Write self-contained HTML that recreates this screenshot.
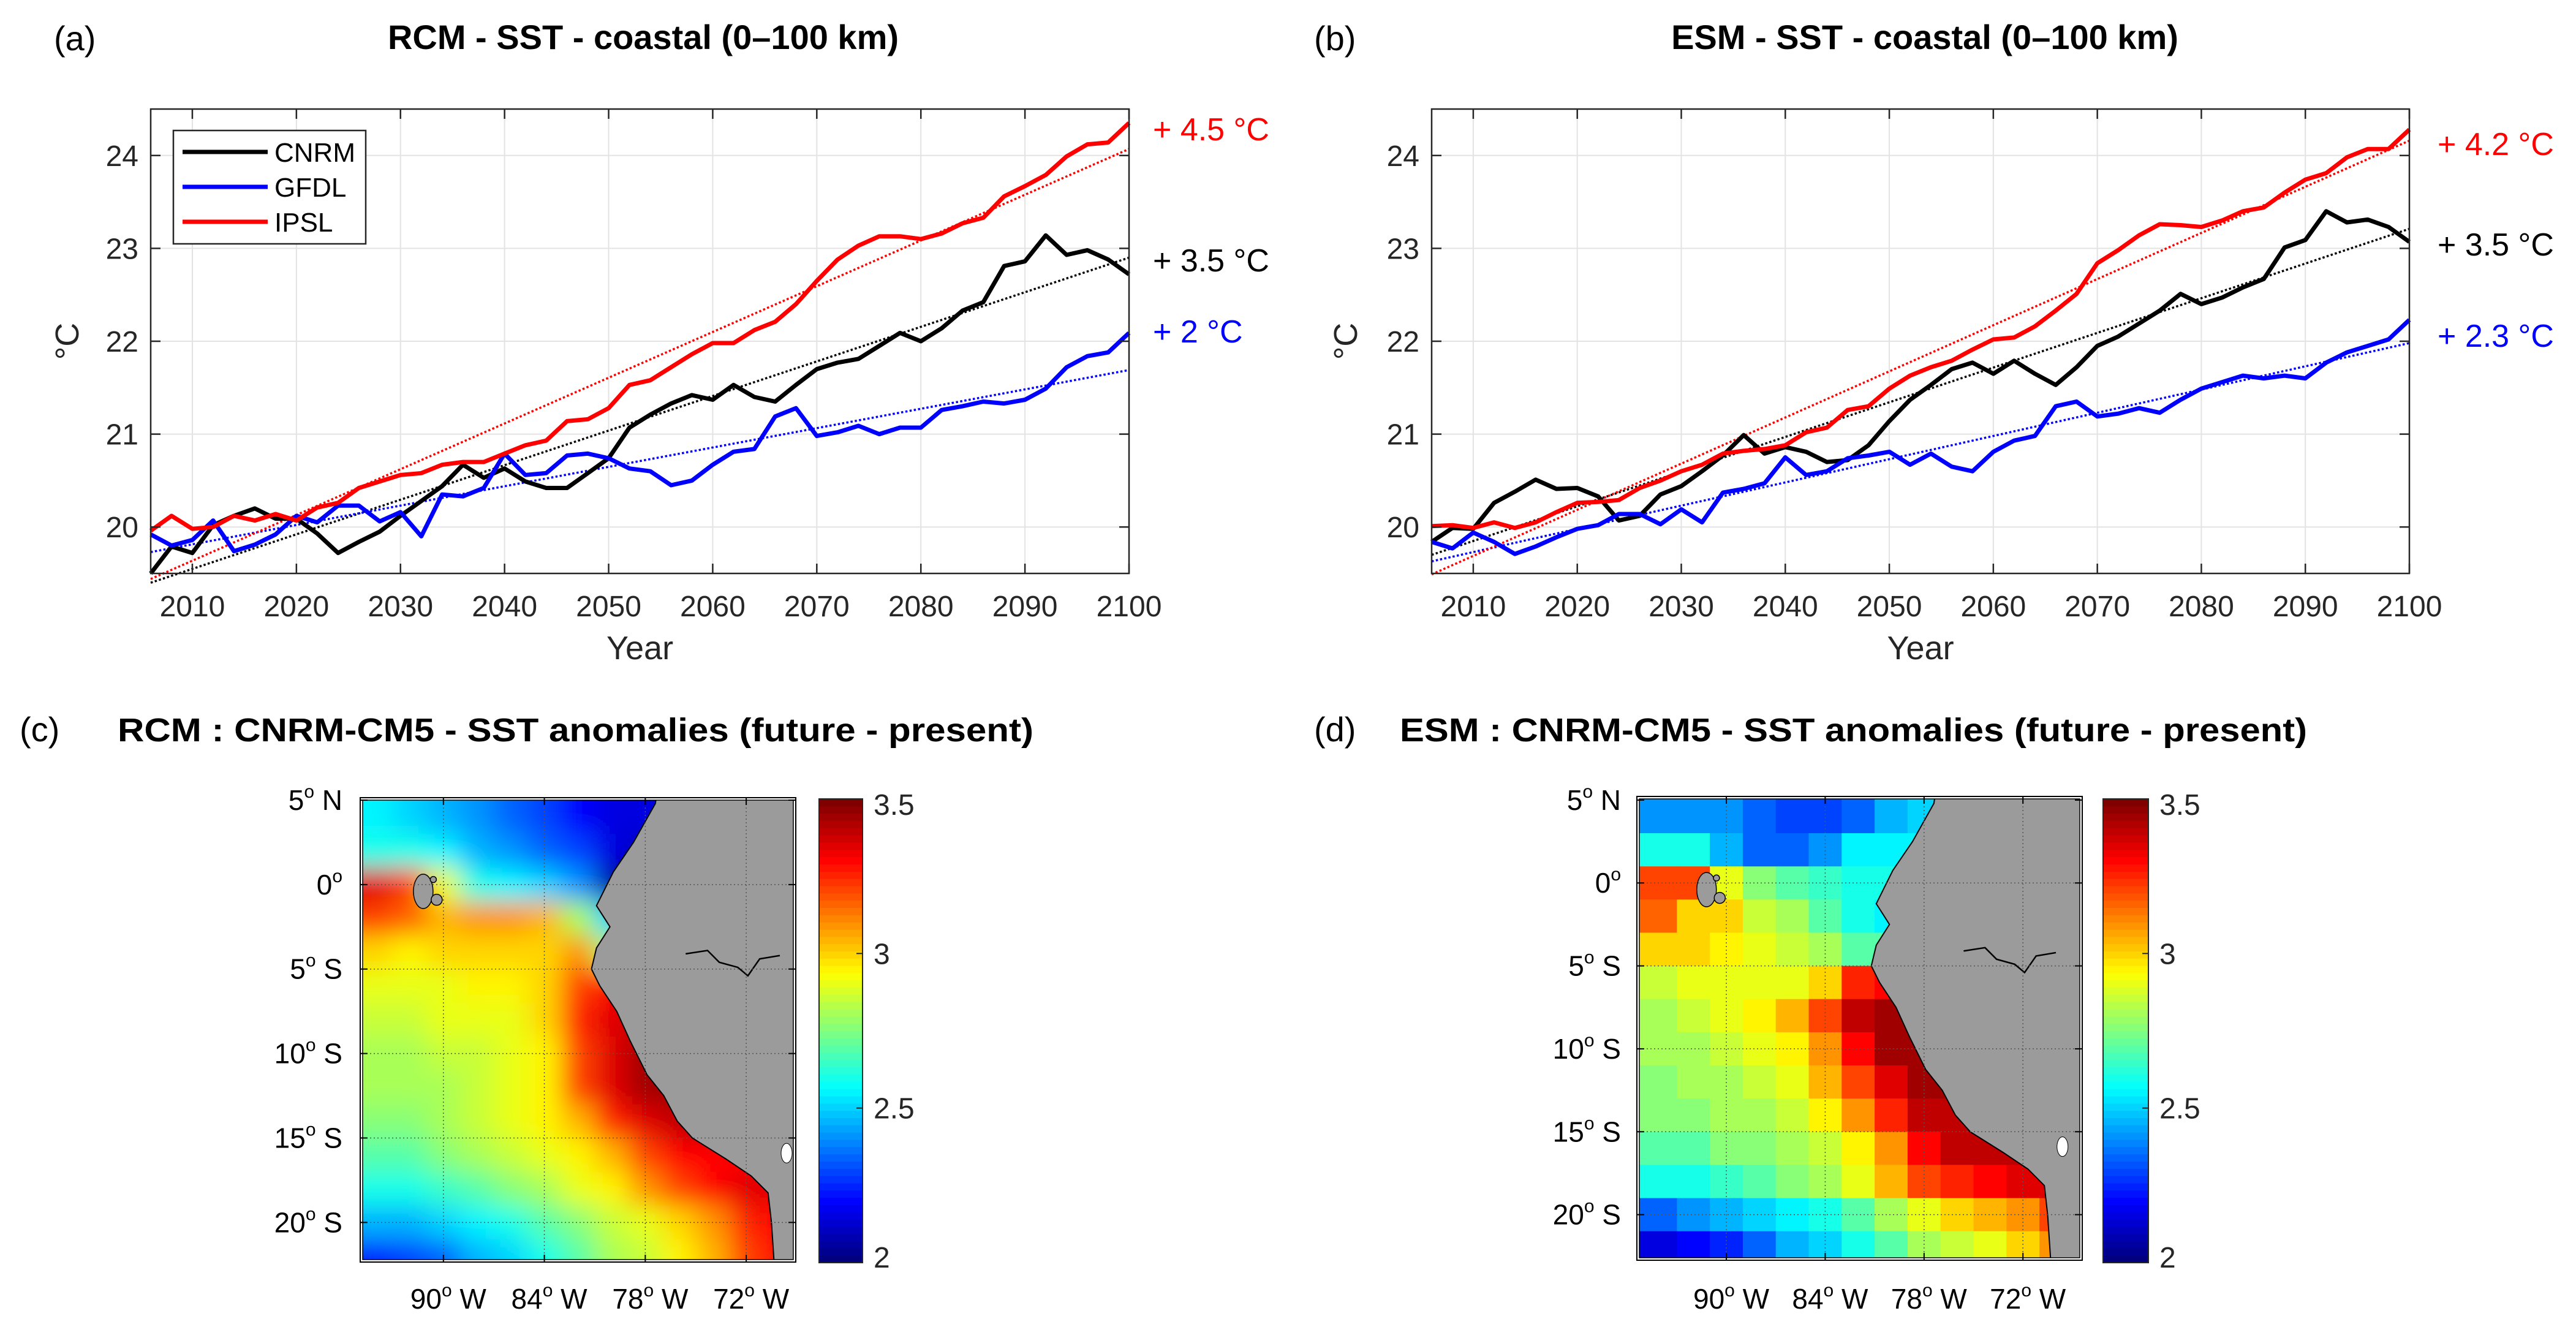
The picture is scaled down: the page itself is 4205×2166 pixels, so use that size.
<!DOCTYPE html>
<html><head><meta charset="utf-8"><style>
html,body{margin:0;padding:0;background:#fff;}
svg{display:block;font-family:"Liberation Sans",Arial,sans-serif;}
</style></head><body>
<svg id="fig" xmlns="http://www.w3.org/2000/svg" width="4205" height="2166" viewBox="0 0 4205 2166">
<rect x="0" y="0" width="4205" height="2166" fill="#fff"/>
<defs>
<filter id="blurF" filterUnits="userSpaceOnUse" x="500" y="1200" width="900" height="950"><feGaussianBlur stdDeviation="20" edgeMode="duplicate"/></filter>
<clipPath id="clipC"><rect x="592" y="1306" width="703" height="750"/></clipPath>
<clipPath id="clipD"><rect x="2676" y="1304" width="719" height="749"/></clipPath>
</defs>
<g id="panelA"></g>
<g id="panelB"></g>
<g id="panelC"></g>
<g id="panelD"></g>
</svg>
<script>
// ===== Time series data =====
const years = [2006,2008,2010,2012,2014,2016,2018,2020,2022,2024,2026,2028,2030,2032,2034,2036,2038,2040,2042,2044,2046,2048,2050,2052,2054,2056,2058,2060,2062,2064,2066,2068,2070,2072,2074,2076,2078,2080,2082,2084,2086,2088,2090,2092,2094,2096,2098,2100];
const xTicks = [2010,2020,2030,2040,2050,2060,2070,2080,2090,2100];
const yTicks = [20,21,22,23,24];
const seriesNames = ["CNRM","GFDL","IPSL"];
const rcmCNRM = [19.5,19.79,19.72,20.02,20.12,20.2,20.09,20.09,19.93,19.72,19.84,19.95,20.12,20.28,20.44,20.67,20.53,20.63,20.49,20.42,20.42,20.58,20.74,21.07,21.21,21.33,21.42,21.37,21.53,21.4,21.35,21.53,21.7,21.77,21.81,21.95,22.09,22.0,22.14,22.33,22.42,22.81,22.86,23.14,22.93,22.98,22.88,22.72];
const rcmGFDL = [19.92,19.8,19.86,20.07,19.74,19.81,19.92,20.12,20.05,20.23,20.23,20.06,20.16,19.9,20.35,20.33,20.42,20.79,20.56,20.58,20.77,20.79,20.74,20.63,20.6,20.45,20.5,20.67,20.81,20.84,21.19,21.28,20.98,21.02,21.09,21.0,21.07,21.07,21.26,21.3,21.35,21.33,21.37,21.49,21.72,21.84,21.88,22.09];
const rcmIPSL = [19.96,20.12,19.98,20.0,20.12,20.07,20.14,20.07,20.21,20.26,20.42,20.49,20.56,20.58,20.67,20.7,20.7,20.79,20.88,20.93,21.14,21.16,21.28,21.53,21.58,21.72,21.86,21.98,21.98,22.12,22.21,22.4,22.65,22.88,23.03,23.13,23.13,23.1,23.16,23.27,23.33,23.56,23.67,23.79,23.99,24.12,24.14,24.35];
const esmCNRM = [19.84,19.99,19.98,20.26,20.38,20.51,20.41,20.42,20.33,20.07,20.12,20.35,20.44,20.6,20.77,20.99,20.79,20.86,20.81,20.7,20.72,20.88,21.14,21.37,21.53,21.7,21.77,21.65,21.79,21.65,21.53,21.72,21.95,22.05,22.19,22.33,22.51,22.4,22.47,22.58,22.67,23.01,23.09,23.4,23.28,23.31,23.23,23.07];
const esmGFDL = [19.84,19.77,19.94,19.84,19.71,19.79,19.89,19.98,20.02,20.14,20.14,20.03,20.19,20.05,20.37,20.41,20.47,20.75,20.56,20.6,20.74,20.77,20.81,20.67,20.79,20.65,20.6,20.81,20.93,20.98,21.3,21.35,21.19,21.22,21.28,21.23,21.37,21.49,21.56,21.63,21.6,21.63,21.6,21.77,21.88,21.95,22.02,22.23];
const esmIPSL = [20.01,20.02,19.99,20.05,19.99,20.05,20.16,20.26,20.27,20.29,20.42,20.5,20.6,20.67,20.79,20.82,20.84,20.88,21.02,21.07,21.26,21.3,21.49,21.63,21.72,21.79,21.91,22.02,22.04,22.16,22.33,22.51,22.84,22.98,23.14,23.26,23.25,23.23,23.3,23.4,23.44,23.6,23.74,23.81,23.98,24.07,24.07,24.28];
// trend endpoints (value at 2006, value at 2100)
const rcmTrendStart = [19.4,19.73,19.44];
const rcmTrendEnd = [22.9,21.69,24.07];
const esmTrendStart = [19.7,19.63,19.49];
const esmTrendEnd = [23.21,21.98,24.16];
const rcmChangeLabels = ["+ 3.5 °C","+ 2 °C","+ 4.5 °C"];
const esmChangeLabels = ["+ 3.5 °C","+ 2.3 °C","+ 4.2 °C"];

// ===== Map data (2-degree grid, rows lat 4..-22, cols lon -94..-70) =====
const gridLat = [4,2,0,-2,-4,-6,-8,-10,-12,-14,-16,-18,-20,-22];
const gridLon = [-94,-92,-90,-88,-86,-84,-82,-80,-78,-76,-74,-72,-70];
const rcmGrid = [
[2.55,2.5,2.45,2.4,2.35,2.3,2.2,2.15,2.15,2.15,2.15,2.15,2.15],
[2.6,2.6,2.55,2.45,2.4,2.35,2.3,2.15,2.1,2.1,2.1,2.1,2.1],
[3.35,3.2,2.9,2.6,2.55,2.5,2.4,2.05,2.0,2.0,2.0,2.0,2.0],
[3.2,3.15,3.05,3.1,3.1,3.05,2.8,2.5,2.4,2.4,2.4,2.4,2.4],
[3.0,2.95,3.0,3.0,3.0,3.0,3.1,2.8,2.8,2.8,2.8,2.8,2.8],
[2.9,2.9,2.9,2.95,2.95,3.0,3.2,3.3,3.3,3.3,3.3,3.3,3.3],
[2.85,2.85,2.9,2.9,2.9,3.0,3.25,3.35,3.4,3.4,3.4,3.4,3.4],
[2.8,2.8,2.85,2.85,2.9,2.95,3.2,3.35,3.45,3.45,3.45,3.45,3.45],
[2.8,2.8,2.8,2.85,2.9,2.95,3.2,3.35,3.45,3.45,3.45,3.45,3.45],
[2.75,2.75,2.8,2.85,2.9,2.95,3.05,3.25,3.35,3.4,3.4,3.4,3.4],
[2.7,2.7,2.75,2.8,2.85,2.9,2.95,3.05,3.2,3.3,3.3,3.3,3.3],
[2.6,2.6,2.65,2.7,2.75,2.8,2.9,2.95,3.1,3.2,3.3,3.35,3.35],
[2.45,2.45,2.5,2.55,2.6,2.7,2.75,2.85,2.9,3.0,3.1,3.25,3.3],
[2.25,2.3,2.35,2.45,2.5,2.6,2.7,2.8,2.85,2.95,3.05,3.2,3.3]];
const esmGrid = [
[2.4,2.4,2.4,2.35,2.3,2.3,2.35,2.45,2.5,2.5,2.5,2.5,2.5],
[2.6,2.6,2.45,2.35,2.35,2.4,2.55,2.55,2.55,2.55,2.55,2.55,2.55],
[3.2,3.2,2.9,2.75,2.7,2.65,2.6,2.6,2.6,2.6,2.6,2.6,2.6],
[3.15,3.0,3.0,2.85,2.8,2.7,2.6,2.55,2.55,2.55,2.55,2.55,2.55],
[3.0,3.0,2.95,2.9,2.85,2.8,2.7,2.7,2.7,2.7,2.7,2.7,2.7],
[2.85,2.9,2.9,2.9,2.9,3.0,3.25,3.3,3.3,3.3,3.3,3.3,3.3],
[2.8,2.85,2.9,2.95,3.05,3.2,3.4,3.45,3.45,3.45,3.45,3.45,3.45],
[2.8,2.8,2.85,2.9,2.95,3.1,3.3,3.45,3.45,3.45,3.45,3.45,3.45],
[2.75,2.8,2.8,2.85,2.9,3.05,3.2,3.35,3.45,3.45,3.45,3.45,3.45],
[2.75,2.75,2.8,2.8,2.85,2.95,3.1,3.25,3.4,3.4,3.4,3.4,3.4],
[2.7,2.7,2.75,2.75,2.8,2.85,2.95,3.1,3.3,3.4,3.4,3.4,3.4],
[2.6,2.6,2.65,2.7,2.75,2.8,2.9,3.05,3.2,3.25,3.3,3.35,3.35],
[2.35,2.4,2.45,2.5,2.55,2.6,2.7,2.8,2.9,3.0,3.05,3.1,3.2],
[2.15,2.2,2.25,2.35,2.45,2.5,2.6,2.7,2.8,2.85,2.9,3.0,3.1]];
const latTicks = [5,0,-5,-10,-15,-20];
const lonTicks = [-90,-84,-78,-72];
const cbTicks = [2,2.5,3,3.5];
// coastline (lat, lon) geometry
const coastLat = [5.5,4.8,2.5,0.75,-1.25,-2.5,-3.75,-5,-6,-7.5,-9.25,-11.25,-12.5,-14,-15,-16.25,-17.25,-18.25,-20,-23];
const coastLon = [-77.3,-77.4,-78.7,-79.9,-80.9,-80.1,-80.9,-81.2,-80.7,-79.7,-78.9,-77.9,-76.9,-76.1,-75.2,-73.2,-71.7,-70.7,-70.5,-70.3];

const NS='http://www.w3.org/2000/svg';
function mk(parent,tag,attrs,text){const e=document.createElementNS(NS,tag);for(const k in attrs)e.setAttribute(k,attrs[k]);if(text!==undefined)e.textContent=text;parent.appendChild(e);return e;}
function jet(v,lo,hi){let t=(v-lo)/(hi-lo);t=Math.max(0,Math.min(1,t));t=Math.min(63,Math.floor(t*64))/63;
 const c=x=>Math.round(255*Math.max(0,Math.min(1,x)));
 return `rgb(${c(1.5-Math.abs(4*t-3))},${c(1.5-Math.abs(4*t-2))},${c(1.5-Math.abs(4*t-1))})`;}
const colors=["#000000","#0000ff","#ff0000"];

function drawTS(g,cfg){
 const {L,R,T,B}=cfg; const x0=2006,x1=2100,y0=19.5,y1=24.5;
 const X=v=>L+(v-x0)/(x1-x0)*(R-L); const Y=v=>B-(v-y0)/(y1-y0)*(B-T);
 // grid
 xTicks.forEach(t=>{const l=mk(g,'line',{x1:X(t),x2:X(t),y1:T,y2:B,stroke:'#e3e3e3','stroke-width':2});
  
  });
 yTicks.forEach(t=>{const l=mk(g,'line',{x1:L,x2:R,y1:Y(t),y2:Y(t),stroke:'#e3e3e3','stroke-width':2});
  
  });
 // trends
 cfg.series.forEach((s,i)=>{const l=mk(g,'line',{x1:X(x0),y1:Y(cfg.ts[i]),x2:X(x1),y2:Y(cfg.te[i]),stroke:colors[i],'stroke-width':3.5,'stroke-dasharray':'3.5 3.5'});
  
  });
 // series
 cfg.series.forEach((s,i)=>{const d=s.map((v,k)=>(k?'L':'M')+X(years[k]).toFixed(1)+','+Y(v).toFixed(1)).join('');
  const p=mk(g,'path',{d:d,fill:'none',stroke:colors[i],'stroke-width':7,'stroke-linejoin':'round'});
  
  });
 // box + ticks
 const box=mk(g,'rect',{x:L,y:T,width:R-L,height:B-T,fill:'none',stroke:'#262626','stroke-width':2.5});
 
 
 xTicks.forEach(t=>{mk(g,'line',{x1:X(t),x2:X(t),y1:B,y2:B-16,stroke:'#262626','stroke-width':2.5});mk(g,'line',{x1:X(t),x2:X(t),y1:T,y2:T+16,stroke:'#262626','stroke-width':2.5});
  const tx=mk(g,'text',{x:X(t),y:B+70,'font-size':48,'text-anchor':'middle',fill:'#262626'},String(t));
  
  });
 yTicks.forEach(t=>{mk(g,'line',{x1:L,x2:L+16,y1:Y(t),y2:Y(t),stroke:'#262626','stroke-width':2.5});mk(g,'line',{x1:R,x2:R-16,y1:Y(t),y2:Y(t),stroke:'#262626','stroke-width':2.5});
  const tx=mk(g,'text',{x:L-20,y:Y(t)+17,'font-size':48,'text-anchor':'end',fill:'#262626'},String(t));
  
  });
 const xl=mk(g,'text',{x:(L+R)/2,y:B+140,'font-size':54,'text-anchor':'middle',fill:'#262626'},'Year');
 
 
 const yl=mk(g,'text',{x:0,y:0,'font-size':54,'text-anchor':'middle',fill:'#262626',transform:`translate(${cfg.ylx},${(T+B)/2}) rotate(-90)`},'°C');
 
 
 const ti=mk(g,'text',{x:cfg.tx,y:80,'font-size':56,'font-weight':'bold','text-anchor':'middle'},cfg.title);
 
 
 const pl=mk(g,'text',{x:cfg.px,y:82,'font-size':56},cfg.plabel);
 
 
 cfg.labels.forEach((s,i)=>{const tx=mk(g,'text',{x:cfg.lx,y:cfg.ly[i]+20,'font-size':52,fill:colors[i]},s);
  
  });
 if(cfg.legend){
  const lg=mk(g,'g',{});
  
  
  mk(lg,'rect',{x:283,y:213,width:314,height:185,fill:'#fff',stroke:'#262626','stroke-width':2.5});
  seriesNames.forEach((n,i)=>{const yy=248+57*i;
   const e=mk(lg,'g',{});
   
   
   mk(e,'line',{x1:298,x2:437,y1:yy,y2:yy,stroke:colors[i],'stroke-width':7});
   mk(e,'text',{x:448,y:yy+16,'font-size':44},n);});
 }
}
drawTS(document.getElementById('panelA'),{L:246,R:1843,T:178,B:936,series:[rcmCNRM,rcmGFDL,rcmIPSL],ts:rcmTrendStart,te:rcmTrendEnd,
 title:'RCM - SST - coastal (0–100 km)',tx:1050,px:88,plabel:'(a)',lx:1882,ly:[423,539,209],labels:rcmChangeLabels,ylx:128,legend:true});
drawTS(document.getElementById('panelB'),{L:2337,R:3933,T:178,B:936,series:[esmCNRM,esmGFDL,esmIPSL],ts:esmTrendStart,te:esmTrendEnd,
 title:'ESM - SST - coastal (0–100 km)',tx:3142,px:2145,plabel:'(b)',lx:3979,ly:[397,546,233],labels:esmChangeLabels,ylx:2215,legend:false});

function drawMap(g,cfg){
 const {L,R,T,B,lon0,lon1,lat0,lat1}=cfg;
 const X=v=>L+(v-lon0)/(lon1-lon0)*(R-L); const Y=v=>T+(lat0-v)/(lat0-lat1)*(B-T);
 const cl=mk(g,'g',{'clip-path':`url(#${cfg.clip})`});
 const cells=mk(cl,'g',cfg.blur?{filter:'url(#blurF)'}:{});
 
 
 cfg.grid.forEach((row,i)=>row.forEach((v,j)=>{
  const la=gridLat[i],lo=gridLon[j];
  const x=X(lo-1)-(j==0?60:0), w=X(lo+1)-X(lo-1)+(j==0?60:0)+(j==row.length-1?60:0)+0.6;
  const y=Y(la+1)-(i==0?60:0), h=Y(la-1)-Y(la+1)+(i==0?60:0)+(i==cfg.grid.length-1?60:0)+0.6;
  const r=mk(cells,'rect',{x:x.toFixed(1),y:y.toFixed(1),width:w.toFixed(1),height:h.toFixed(1),fill:jet(v,2,3.5)});
  
  
 }));
 // land
 let d='M'+coastLat.map((la,k)=>X(coastLon[k]).toFixed(1)+','+Y(la).toFixed(1)).join('L');
 d+=`L${R+20},${Y(-23)}L${R+20},${Y(5.5)}Z`;
 const land=mk(cl,'path',{d:d,fill:'#9b9b9b',stroke:'#000','stroke-width':2});
 
 
 // Galapagos
 [[-0.4,-91.2,16,28],[-0.9,-90.4,9,9],[0.3,-90.6,5,5]].forEach(a=>{mk(cl,'ellipse',{cx:X(a[1]),cy:Y(a[0]),rx:a[2],ry:a[3],fill:'#9b9b9b',stroke:'#000','stroke-width':1.5});});
 // border river line
 mk(cl,'path',{d:`M${X(-75.6)},${Y(-4.1)}L${X(-74.3)},${Y(-3.9)}L${X(-73.6)},${Y(-4.6)}L${X(-72.5)},${Y(-4.9)}L${X(-71.9)},${Y(-5.4)}L${X(-71.2)},${Y(-4.4)}L${X(-70)},${Y(-4.2)}`,fill:'none',stroke:'#000','stroke-width':2.5});
 mk(cl,'ellipse',{cx:X(-69.6),cy:Y(-15.9),rx:9,ry:16,fill:'#fff',stroke:'#000','stroke-width':1});
 // grid lines
 latTicks.forEach(t=>{if(Y(t)>T+3)mk(g,'line',{x1:L,x2:R,y1:Y(t),y2:Y(t),stroke:'#555','stroke-width':1.5,'stroke-dasharray':'2 4'});
  mk(g,'line',{x1:L-4,x2:L+8,y1:Y(t),y2:Y(t),stroke:'#000','stroke-width':2});mk(g,'line',{x1:R-8,x2:R+4,y1:Y(t),y2:Y(t),stroke:'#000','stroke-width':2});
  const lab=t>0?[String(t),' N']:t<0?[String(-t),' S']:['0',''];
  const tx=mk(g,'text',{x:cfg.latLabX,y:Y(t)+16,'font-size':46,'text-anchor':'end'});
  
  
  mk(tx,'tspan',{},lab[0]);mk(tx,'tspan',{dy:-20,'font-size':30},'o');mk(tx,'tspan',{dy:20},lab[1]);});
 lonTicks.forEach(t=>{mk(g,'line',{x1:X(t),x2:X(t),y1:T,y2:B,stroke:'#555','stroke-width':1.5,'stroke-dasharray':'2 4'});
  mk(g,'line',{x1:X(t),x2:X(t),y1:B+4,y2:B-8,stroke:'#000','stroke-width':2});mk(g,'line',{x1:X(t),x2:X(t),y1:T-4,y2:T+8,stroke:'#000','stroke-width':2});
  const tx=mk(g,'text',{x:X(t)+8,y:2136,'font-size':46,'text-anchor':'middle'});
  
  
  mk(tx,'tspan',{},String(-t));mk(tx,'tspan',{dy:-20,'font-size':30},'o');mk(tx,'tspan',{dy:20},' W');});
 const fr=mk(g,'rect',{x:L-4,y:T-4,width:R-L+8,height:B-T+8,fill:'none',stroke:'#000','stroke-width':2});
 
 
 mk(g,'rect',{x:L,y:T,width:R-L,height:B-T,fill:'none',stroke:'#000','stroke-width':1.5});
 // colorbar
 const cb=mk(g,'g',{});
 
 
 const cT=1304,cB=2061,n=64;
 for(let k=0;k<n;k++){const v=2+(k+0.5)/n*1.5;const y=cB-(k+1)/n*(cB-cT);
  mk(cb,'rect',{x:cfg.cbL,y:y.toFixed(1),width:cfg.cbW,height:((cB-cT)/n+0.6).toFixed(1),fill:jet(v,2,3.5)});}
 mk(cb,'rect',{x:cfg.cbL,y:cT,width:cfg.cbW,height:cB-cT,fill:'none',stroke:'#262626','stroke-width':2});
 cbTicks.forEach(t=>{const y=cB-(t-2)/1.5*(cB-cT);
  mk(cb,'line',{x1:cfg.cbL+cfg.cbW-10,x2:cfg.cbL+cfg.cbW,y1:y,y2:y,stroke:'#262626','stroke-width':2});
  const tx=mk(cb,'text',{x:cfg.cbL+cfg.cbW+18,y:y+(t==3.5?26:t==2?8:17),'font-size':48,fill:'#262626'},String(t));
  
  });
 const ti=mk(g,'text',{x:cfg.tx0,y:1210,'font-size':54,'font-weight':'bold',textLength:cfg.tw,lengthAdjust:'spacingAndGlyphs'},cfg.title);
 
 
 const pl=mk(g,'text',{x:cfg.px,y:1210,'font-size':56},cfg.plabel);
 
 
}
drawMap(document.getElementById('panelC'),{L:592,R:1295,T:1306,B:2056,lon0:-94.8,lon1:-69.2,lat0:5,lat1:-22.2,grid:rcmGrid,blur:true,clip:'clipC',
 latLabX:559,cbL:1337,cbW:71,title:'RCM : CNRM-CM5 - SST anomalies  (future - present)',tx0:192,tw:1495,px:32,plabel:'(c)'});
drawMap(document.getElementById('panelD'),{L:2676,R:3395,T:1304,B:2053,lon0:-95.28,lon1:-68.55,lat0:5.07,lat1:-22.6,grid:esmGrid,blur:false,clip:'clipD',
 latLabX:2646,cbL:3433,cbW:74,title:'ESM : CNRM-CM5 - SST anomalies (future - present)',tx0:2285,tw:1481,px:2145,plabel:'(d)'});
</script>
</body></html>
